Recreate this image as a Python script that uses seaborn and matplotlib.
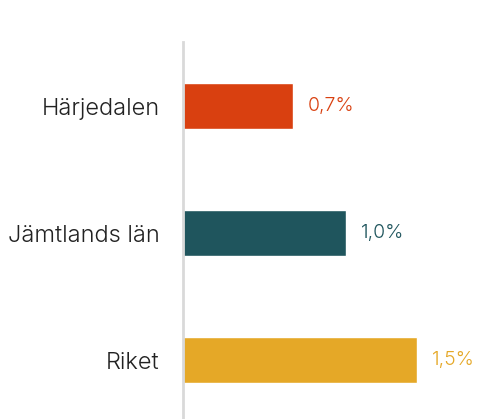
import matplotlib
matplotlib.use("Agg")
import matplotlib.pyplot as plt
import seaborn as sns
import pandas as pd

categories = ["Härjedalen", "Jämtlands län", "Riket"]
values = [0.70, 1.04, 1.49]
value_labels = ["0,7%", "1,0%", "1,5%"]
colors = ["#d94010", "#1f555d", "#e5a827"]

sns.set_style("white")
plt.rcParams["font.family"] = ["Inter", "DejaVu Sans"]

df = pd.DataFrame({"region": categories, "value": values})

fig = plt.figure(figsize=(4.78, 4.19), dpi=100)
ax = fig.add_axes([183 / 478, -4.5 / 419, 1 - 183 / 478, 381 / 419])

sns.barplot(data=df, y="region", x="value", hue="region", palette=colors,
            order=categories, hue_order=categories, width=0.36,
            legend=False, ax=ax, saturation=1)

ax.set_xlim(0, 295 / 157)
ax.set_ylim(2.5, -0.5)
ax.set_xlabel("")
ax.set_ylabel("")
ax.set_xticks([])
for s in ["top", "right", "bottom"]:
    ax.spines[s].set_visible(False)
ax.spines["left"].set_color("#d9d9d9")
ax.spines["left"].set_linewidth(2)
ax.tick_params(axis="y", length=0, pad=17, labelsize=17, labelcolor="#222222")
for lab in ax.get_yticklabels():
    lab.set_fontweight(300)

for i, (v, t, c) in enumerate(zip(values, value_labels, colors)):
    ax.annotate(t, xy=(v, i), xytext=(15, 0), textcoords="offset pixels",
                va="center", ha="left", fontsize=14, color=c, fontweight=300)

fig.savefig("out.png", dpi=100)
